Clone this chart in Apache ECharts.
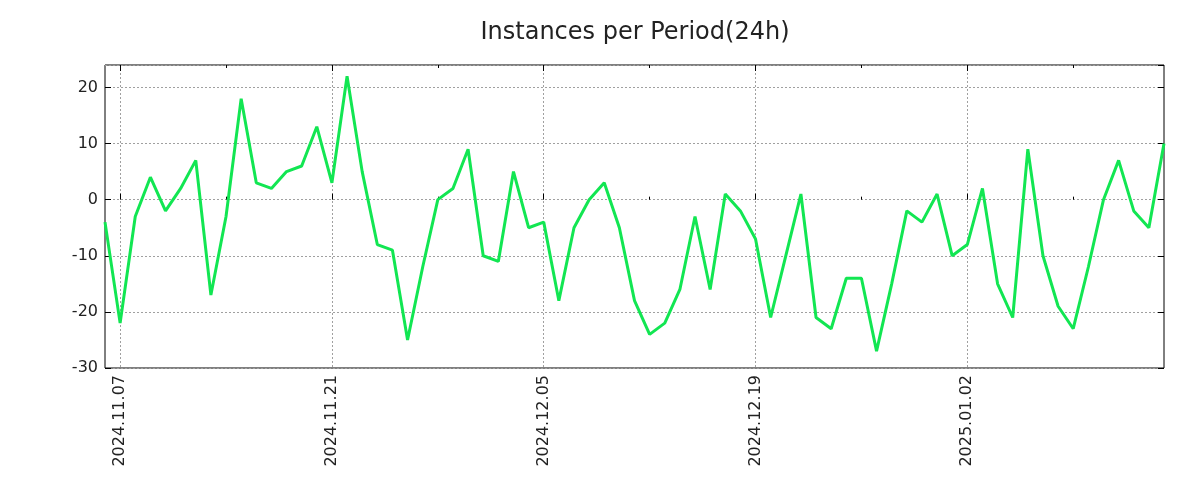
<!DOCTYPE html>
<html>
<head>
<meta charset="utf-8">
<title>Instances per Period(24h)</title>
<script src="https://cdn.jsdelivr.net/npm/echarts/dist/echarts.min.js"></script>
<style>
  html, body { margin: 0; padding: 0; background: #fff; }
  #chart { width: 1200px; height: 500px; }
</style>
</head>
<body>
<div id="chart"></div>
<script>
// daily buckets, 2024.11.06 .. 2025.01.15
var startDay = '2024-11-06'
var dayCount = 71
var days = []
for (var i = 0; i < dayCount; i++) {
  var d = new Date(startDay + 'T00:00:00Z')
  d.setUTCDate(d.getUTCDate() + i)
  var mm = String(d.getUTCMonth() + 1).padStart(2, '0')
  var dd = String(d.getUTCDate()).padStart(2, '0')
  days.push(d.getUTCFullYear() + '.' + mm + '.' + dd)
}

var instances = [-4, -22, -3, 4, -2, 2, 7, -17, -3, 18,
  3, 2, 5, 6, 13, 3, 22, 5, -8, -9,
  -25, -12, 0, 2, 9, -10, -11, 5, -5, -4,
  -18, -5, 0, 3, -5, -18, -24, -22, -16, -3,
  -16, 1, -2, -7, -21, -10, 1, -21, -23, -14,
  -14, -27, -15, -2, -4, 1, -10, -8, 2, -15,
  -21, 9, -10, -19, -23, -12, 0, 7, -2, -5,
  10]

var yMin = -30, yMax = 24, yStep = 10

// labels every two weeks, small ticks in between
function isMajor(i) { return i % 14 === 1 }
function isMinor(i) { return i % 14 === 8 }

var font = 'DejaVu Sans'
var gridColor = '#a0a0a0'

function tickAxis(pos, fn, len) {
  return {
    type: 'category', position: pos, data: days, boundaryGap: false,
    axisLine: { show: false },
    axisLabel: { show: false },
    splitLine: { show: false },
    axisTick: { show: true, inside: true, length: len, interval: fn,
      lineStyle: { color: '#000', width: 1 } }
  }
}

var chart = echarts.init(document.getElementById('chart'))
chart.setOption({
  animation: false,
  title: {
    text: 'Instances per Period(24h)',
    left: 630, top: 16, textAlign: 'center',
    textStyle: { fontFamily: font, fontSize: 24, fontWeight: 'normal', color: '#222' }
  },
  grid: {
    left: 105, right: 36, top: 65, bottom: 132,
    show: true, borderColor: '#000', borderWidth: 1
  },
  xAxis: [
    {
      type: 'category', position: 'bottom', data: days, boundaryGap: false,
      axisLine: { show: false },
      axisTick: { show: true, inside: true, length: 6, interval: isMajor,
        lineStyle: { color: '#000', width: 1 } },
      axisLabel: {
        interval: isMajor, rotate: 90, margin: 7,
        fontFamily: font, fontSize: 16, color: '#222'
      },
      splitLine: { show: true, interval: isMajor,
        lineStyle: { color: gridColor, type: [2, 2], width: 1 } }
    },
    tickAxis('bottom', isMinor, 3),
    tickAxis('top', isMajor, 6),
    tickAxis('top', isMinor, 3)
  ],
  yAxis: [
    {
      type: 'value', position: 'left', min: yMin, max: yMax, interval: yStep,
      axisLine: { show: false },
      axisTick: { show: true, inside: true, length: 6, lineStyle: { color: '#000' } },
      axisLabel: { showMaxLabel: false, margin: 7, fontFamily: font, fontSize: 16, color: '#222' },
      splitLine: { show: true, lineStyle: { color: gridColor, type: [2, 2], width: 1 } }
    },
    {
      type: 'value', position: 'right', min: yMin, max: yMax, interval: yStep,
      axisLine: { show: false },
      axisTick: { show: true, inside: true, length: 6, lineStyle: { color: '#000' } },
      axisLabel: { show: false },
      splitLine: { show: false }
    }
  ],
  series: [
    {
      name: 'Instances',
      type: 'line',
      data: instances,
      xAxisIndex: 0,
      yAxisIndex: 0,
      showSymbol: false,
      symbol: 'none',
      lineStyle: { color: '#12e652', width: 3 },
      z: 3
    }
  ]
})
</script>
</body>
</html>
